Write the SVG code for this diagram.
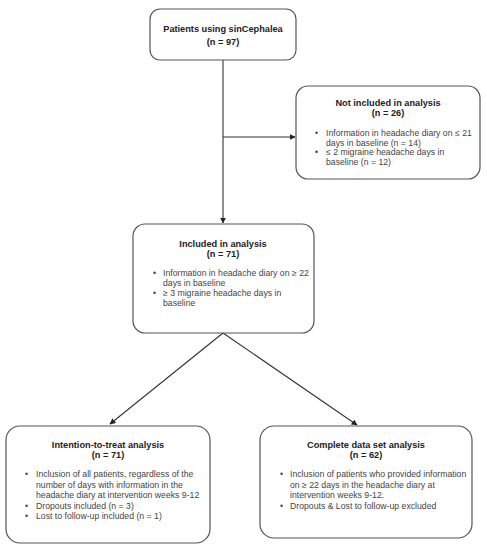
<svg xmlns="http://www.w3.org/2000/svg" width="487" height="550" viewBox="0 0 487 550">
<style>
.box{fill:#fff;stroke:#555;stroke-width:1.2}
.t{font-family:"Liberation Sans",Arial,sans-serif;font-size:9.2px;fill:#222;font-weight:bold;text-anchor:middle}
.b{font-family:"Liberation Sans",Arial,sans-serif;font-size:8.7px;fill:#444}
.c{stroke:#333;stroke-width:1.1;fill:none}
</style>
<defs>
<marker id="ah" viewBox="0 0 10 10" refX="9" refY="5" markerWidth="6" markerHeight="6" orient="auto" markerUnits="userSpaceOnUse">
<path d="M0,0 L10,5 L0,10 z" fill="#222"/>
</marker>
</defs>
<rect width="487" height="550" fill="#fff"/>
<g id="connectors">
<line class="c" x1="223" y1="60" x2="223" y2="223" marker-end="url(#ah)"/>
<line class="c" x1="223" y1="137" x2="295" y2="137" marker-end="url(#ah)"/>
<line class="c" x1="223" y1="333" x2="110" y2="424" marker-end="url(#ah)"/>
<line class="c" x1="223" y1="333" x2="357" y2="425" marker-end="url(#ah)"/>
</g>
<g id="top">
<rect class="box" x="150" y="9" width="146" height="51" rx="10"/>
<text class="t" x="223" y="32">Patients using sinCephalea</text>
<text class="t" x="223" y="45">(n = 97)</text>
</g>
<g id="notincluded">
<rect class="box" x="296" y="86" width="184" height="93" rx="12"/>
<text class="t" x="388" y="106">Not included in analysis</text>
<text class="t" x="388" y="116">(n = 26)</text>
<text class="b" x="315" y="136">•</text>
<text class="b" x="326" y="136">Information in headache diary on ≤ 21</text>
<text class="b" x="326" y="145.5">days in baseline (n = 14)</text>
<text class="b" x="315" y="155">•</text>
<text class="b" x="326" y="155">≤ 2 migraine headache days in</text>
<text class="b" x="326" y="164.5">baseline (n = 12)</text>
</g>
<g id="included">
<rect class="box" x="133" y="224" width="181" height="109" rx="12"/>
<text class="t" x="223" y="247">Included in analysis</text>
<text class="t" x="223" y="257">(n = 71)</text>
<text class="b" x="153" y="276">•</text>
<text class="b" x="163" y="276">Information in headache diary on ≥ 22</text>
<text class="b" x="163" y="286">days in baseline</text>
<text class="b" x="153" y="296">•</text>
<text class="b" x="163" y="296">≥ 3 migraine headache days in</text>
<text class="b" x="163" y="306">baseline</text>
</g>
<g id="itt">
<rect class="box" x="6" y="426" width="204" height="117" rx="14"/>
<text class="t" x="108" y="448">Intention-to-treat analysis</text>
<text class="t" x="108" y="458">(n = 71)</text>
<text class="b" x="25" y="477">•</text>
<text class="b" x="36" y="477">Inclusion of all patients, regardless of the</text>
<text class="b" x="36" y="487.5">number of days with information in the</text>
<text class="b" x="36" y="498">headache diary at intervention weeks 9-12</text>
<text class="b" x="25" y="508.5">•</text>
<text class="b" x="36" y="508.5">Dropouts included (n = 3)</text>
<text class="b" x="25" y="519">•</text>
<text class="b" x="36" y="519">Lost to follow-up included (n = 1)</text>
</g>
<g id="complete">
<rect class="box" x="260" y="426" width="212" height="112" rx="14"/>
<text class="t" x="366" y="448">Complete data set analysis</text>
<text class="t" x="366" y="458">(n = 62)</text>
<text class="b" x="280" y="477">•</text>
<text class="b" x="290" y="477">Inclusion of patients who provided information</text>
<text class="b" x="290" y="487.5">on ≥ 22 days in the headache diary at</text>
<text class="b" x="290" y="498">intervention weeks 9-12.</text>
<text class="b" x="280" y="508.5">•</text>
<text class="b" x="290" y="508.5">Dropouts &amp; Lost to follow-up excluded</text>
</g>
</svg>
